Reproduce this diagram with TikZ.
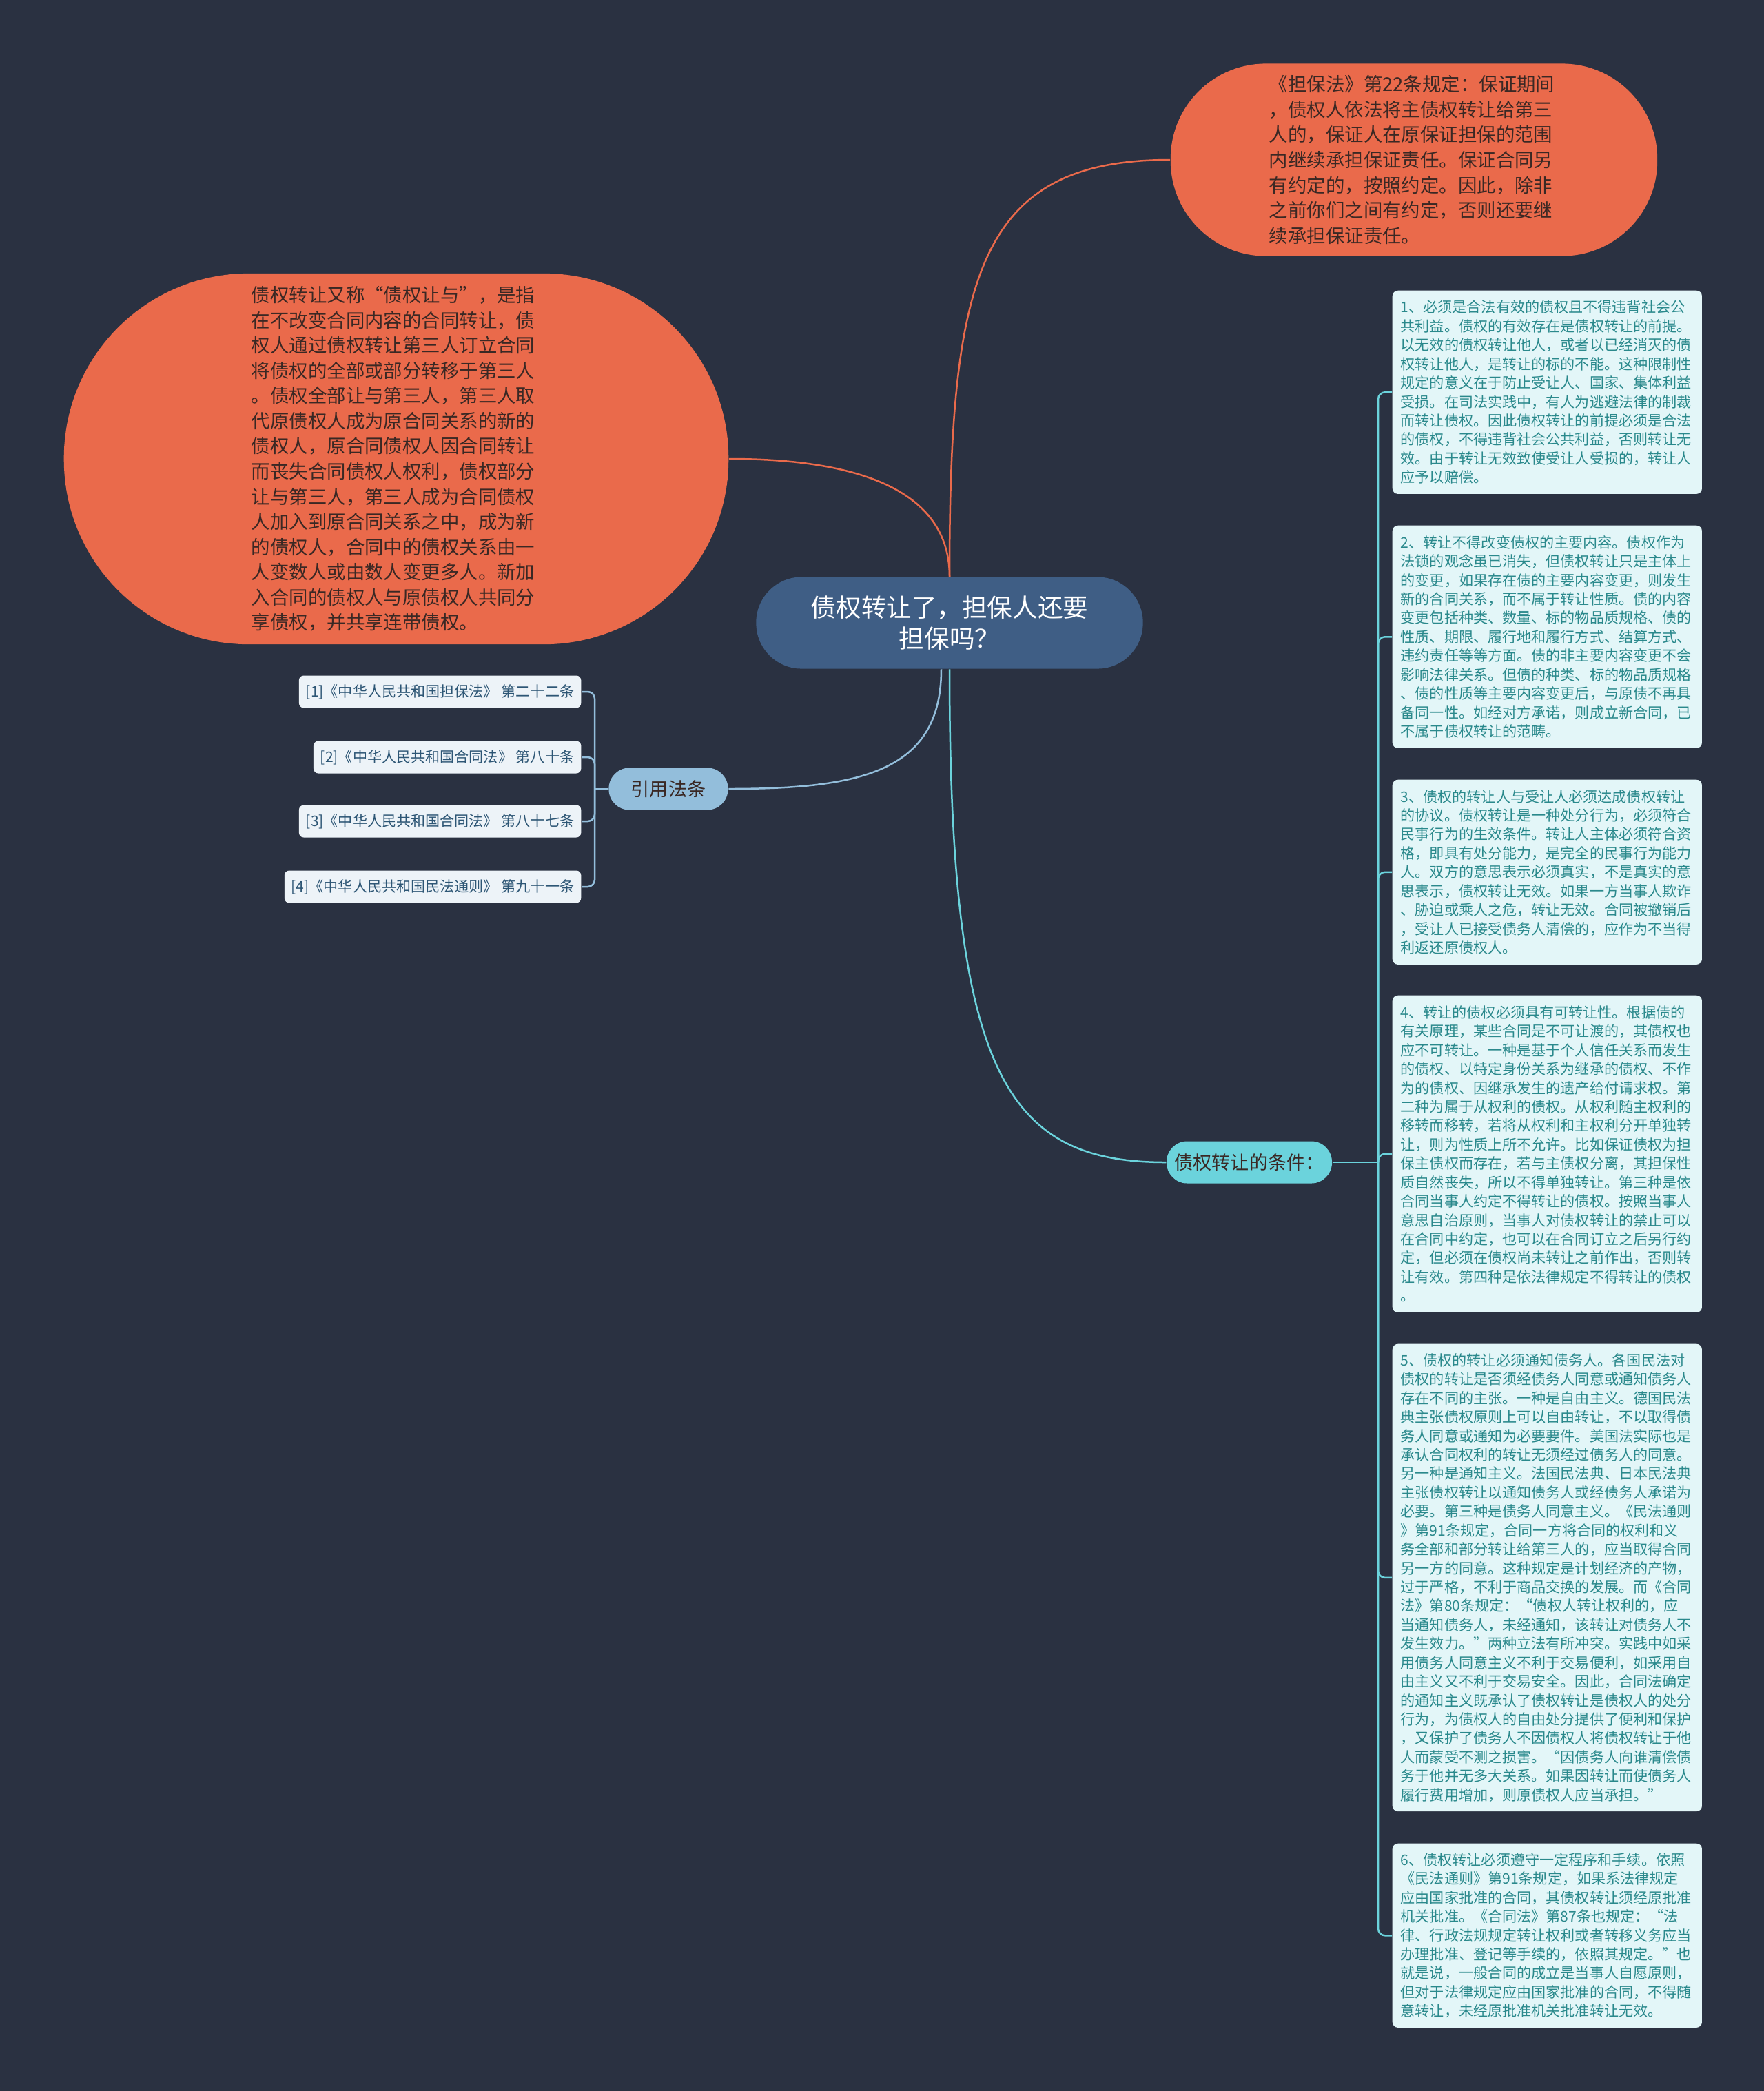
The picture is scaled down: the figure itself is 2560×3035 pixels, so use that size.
\documentclass[tikz,border=0pt]{standalone}
\usepackage{fontspec}
\setmainfont{Noto Sans CJK SC}
\usetikzlibrary{positioning,calc}
\usepackage{xcolor}

\definecolor{latar}{HTML}{2A3141}
\definecolor{oranye}{HTML}{EA6A4B}
\definecolor{teksoranye}{HTML}{3A2824}
\definecolor{biruinti}{HTML}{3F5E85}
\definecolor{birumuda}{HTML}{93BEDB}
\definecolor{sian}{HTML}{6BD3DC}
\definecolor{kotakfa}{HTML}{EDF3F8}
\definecolor{teksfa}{HTML}{2D5675}
\definecolor{kotaktk}{HTML}{E3F6F8}
\definecolor{tekstk}{HTML}{2A898C}

\begin{document}
\begin{tikzpicture}[x=0.01cm, y=-0.01cm,
    pusat/.style={fill=biruinti, text=white, rounded corners=0.66cm, minimum width=5.61cm,
        minimum height=1.33cm, align=center, font=\fontsize{10.4}{13}\selectfont},
    catatan/.style={fill=oranye, text=teksoranye, text width=4.2cm, align=left,
        font=\fontsize{7.8}{10.4}\selectfont},
    cabang/.style={rounded corners=0.3cm, minimum height=0.61cm, text=teksoranye,
        font=\fontsize{7.7}{9}\selectfont},
    fabox/.style={fill=kotakfa, text=teksfa, rounded corners=0.07cm, anchor=east,
        minimum height=0.47cm, inner xsep=0.1cm, font=\fontsize{6}{7.5}\selectfont},
    tkbox/.style={fill=kotaktk, text=tekstk, rounded corners=0.08cm, anchor=north west,
        text width=4.25cm, inner xsep=0.12cm, inner ysep=0.1cm, align=left,
        font=\fontsize{6}{7.8}\selectfont},
    garisoranye/.style={draw=oranye, line width=0.025cm},
    garisbiru/.style={draw=birumuda, line width=0.025cm},
    garissian/.style={draw=sian, line width=0.025cm}]

    % Latar
    \fill[latar] (0,0) rectangle (2560,3035);
    \useasboundingbox (0,0) rectangle (2560,3035);

    % Pusat
    \node[pusat] (pusat) at (1378,904) {债权转让了，担保人还要\\担保吗？};

    % Catatan oranye
    \node[catatan, rounded corners=1.38cm, minimum width=7.06cm, minimum height=2.79cm] (dbfa) at (2052,232) {%
《担保法》第22条规定：保证期间\\
，债权人依法将主债权转让给第三\\
人的，保证人在原保证担保的范围\\
内继续承担保证责任。保证合同另\\
有约定的，按照约定。因此，除非\\
之前你们之间有约定，否则还要继\\
续承担保证责任。};

    \node[catatan, rounded corners=2.68cm, minimum width=9.64cm, minimum height=5.38cm] (dingyi) at (575,666) {%
债权转让又称“债权让与”，是指\\
在不改变合同内容的合同转让，债\\
权人通过债权转让第三人订立合同\\
将债权的全部或部分转移于第三人\\
。债权全部让与第三人，第三人取\\
代原债权人成为原合同关系的新的\\
债权人，原合同债权人因合同转让\\
而丧失合同债权人权利，债权部分\\
让与第三人，第三人成为合同债权\\
人加入到原合同关系之中，成为新\\
的债权人，合同中的债权关系由一\\
人变数人或由数人变更多人。新加\\
入合同的债权人与原债权人共同分\\
享债权，并共享连带债权。};

    % Cabang
    \node[cabang, fill=birumuda, minimum width=1.73cm] (fatiao) at (970,1145) {引用法条};
    \node[cabang, fill=sian, minimum width=2.32cm] (tiaojian) at (1813,1687) {债权转让的条件：};

    % Garis dari pusat
    \draw[garisoranye] (pusat.north) .. controls (1378,400) and (1420,232) .. (dbfa.west);
    \draw[garisoranye] (pusat.north) .. controls (1378,700) and (1220,666) .. (dingyi.east);
    \draw[garisbiru] ([xshift=-0.12cm]pusat.south) .. controls (1366,1120) and (1250,1145) .. (fatiao.east);
    \draw[garissian] (pusat.south) .. controls (1378,1560) and (1460,1687) .. (tiaojian.west);

    % Pasal
    \node[fabox] (f1) at (844,1004) {[1]《中华人民共和国担保法》 第二十二条};
    \node[fabox] (f2) at (844,1099) {[2]《中华人民共和国合同法》 第八十条};
    \node[fabox] (f3) at (844,1192) {[3]《中华人民共和国合同法》 第八十七条};
    \node[fabox] (f4) at (844,1287) {[4]《中华人民共和国民法通则》 第九十一条};

    \coordinate (fcab) at (863,1145);
    \draw[garisbiru] (fatiao.west) -- (fcab);
    \foreach \i in {1,...,4}
        \draw[garisbiru, rounded corners=0.1cm] (fcab) |- (f\i.east);

    % Syarat
    \node[tkbox, minimum height=2.95cm] (t1) at (2020,421) {%
1、必须是合法有效的债权且不得违背社会公\\
共利益。债权的有效存在是债权转让的前提。\\
以无效的债权转让他人，或者以已经消灭的债\\
权转让他人，是转让的标的不能。这种限制性\\
规定的意义在于防止受让人、国家、集体利益\\
受损。在司法实践中，有人为逃避法律的制裁\\
而转让债权。因此债权转让的前提必须是合法\\
的债权，不得违背社会公共利益，否则转让无\\
效。由于转让无效致使受让人受损的，转让人\\
应予以赔偿。};

    \node[tkbox, minimum height=3.23cm] (t2) at (2020,762) {%
2、转让不得改变债权的主要内容。债权作为\\
法锁的观念虽已消失，但债权转让只是主体上\\
的变更，如果存在债的主要内容变更，则发生\\
新的合同关系，而不属于转让性质。债的内容\\
变更包括种类、数量、标的物品质规格、债的\\
性质、期限、履行地和履行方式、结算方式、\\
违约责任等等方面。债的非主要内容变更不会\\
影响法律关系。但债的种类、标的物品质规格\\
、债的性质等主要内容变更后，与原债不再具\\
备同一性。如经对方承诺，则成立新合同，已\\
不属于债权转让的范畴。};

    \node[tkbox, minimum height=2.68cm] (t3) at (2020,1131) {%
3、债权的转让人与受让人必须达成债权转让\\
的协议。债权转让是一种处分行为，必须符合\\
民事行为的生效条件。转让人主体必须符合资\\
格，即具有处分能力，是完全的民事行为能力\\
人。双方的意思表示必须真实，不是真实的意\\
思表示，债权转让无效。如果一方当事人欺诈\\
、胁迫或乘人之危，转让无效。合同被撤销后\\
，受让人已接受债务人清偿的，应作为不当得\\
利返还原债权人。};

    \node[tkbox, minimum height=4.60cm] (t4) at (2020,1444) {%
4、转让的债权必须具有可转让性。根据债的\\
有关原理，某些合同是不可让渡的，其债权也\\
应不可转让。一种是基于个人信任关系而发生\\
的债权、以特定身份关系为继承的债权、不作\\
为的债权、因继承发生的遗产给付请求权。第\\
二种为属于从权利的债权。从权利随主权利的\\
移转而移转，若将从权利和主权利分开单独转\\
让，则为性质上所不允许。比如保证债权为担\\
保主债权而存在，若与主债权分离，其担保性\\
质自然丧失，所以不得单独转让。第三种是依\\
合同当事人约定不得转让的债权。按照当事人\\
意思自治原则，当事人对债权转让的禁止可以\\
在合同中约定，也可以在合同订立之后另行约\\
定，但必须在债权尚未转让之前作出，否则转\\
让有效。第四种是依法律规定不得转让的债权\\
。};

    \node[tkbox, minimum height=6.78cm] (t5) at (2020,1950) {%
5、债权的转让必须通知债务人。各国民法对\\
债权的转让是否须经债务人同意或通知债务人\\
存在不同的主张。一种是自由主义。德国民法\\
典主张债权原则上可以自由转让，不以取得债\\
务人同意或通知为必要要件。美国法实际也是\\
承认合同权利的转让无须经过债务人的同意。\\
另一种是通知主义。法国民法典、日本民法典\\
主张债权转让以通知债务人或经债务人承诺为\\
必要。第三种是债务人同意主义。《民法通则\\
》第91条规定，合同一方将合同的权利和义\\
务全部和部分转让给第三人的，应当取得合同\\
另一方的同意。这种规定是计划经济的产物，\\
过于严格，不利于商品交换的发展。而《合同\\
法》第80条规定：“债权人转让权利的，应\\
当通知债务人，未经通知，该转让对债务人不\\
发生效力。”两种立法有所冲突。实践中如采\\
用债务人同意主义不利于交易便利，如采用自\\
由主义又不利于交易安全。因此，合同法确定\\
的通知主义既承认了债权转让是债权人的处分\\
行为，为债权人的自由处分提供了便利和保护\\
，又保护了债务人不因债权人将债权转让于他\\
人而蒙受不测之损害。“因债务人向谁清偿债\\
务于他并无多大关系。如果因转让而使债务人\\
履行费用增加，则原债权人应当承担。”};

    \node[tkbox, minimum height=2.67cm] (t6) at (2020,2675) {%
6、债权转让必须遵守一定程序和手续。依照\\
《民法通则》第91条规定，如果系法律规定\\
应由国家批准的合同，其债权转让须经原批准\\
机关批准。《合同法》第87条也规定：“法\\
律、行政法规规定转让权利或者转移义务应当\\
办理批准、登记等手续的，依照其规定。”也\\
就是说，一般合同的成立是当事人自愿原则，\\
但对于法律规定应由国家批准的合同，不得随\\
意转让，未经原批准机关批准转让无效。};

    \coordinate (tcab) at (2000,1687);
    \draw[garissian] (tiaojian.east) -- (tcab);
    \foreach \i in {1,...,6}
        \draw[garissian, rounded corners=0.1cm] (tcab) |- (t\i.west);
\end{tikzpicture}
\end{document}
